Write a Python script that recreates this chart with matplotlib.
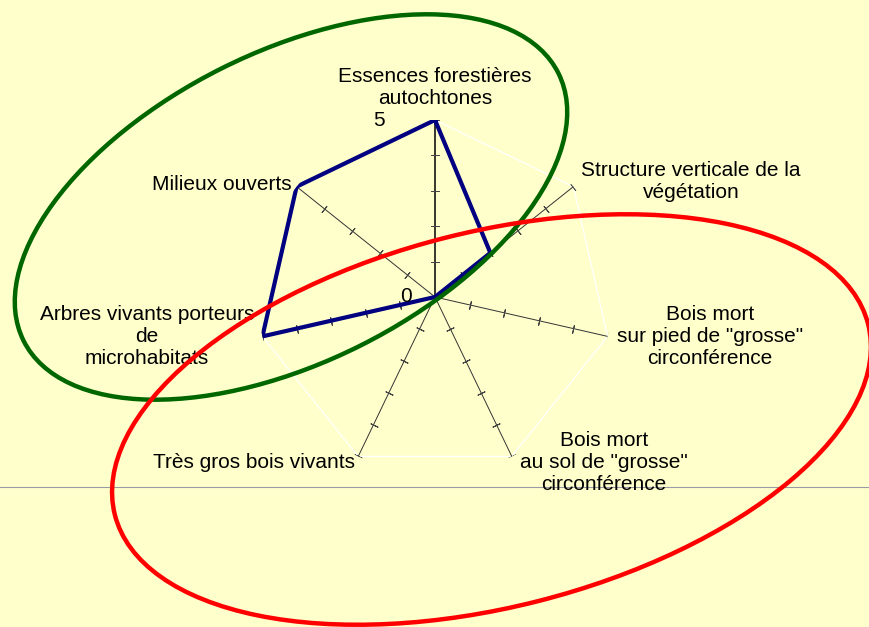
import numpy as np
import matplotlib
matplotlib.use('Agg')
import matplotlib.pyplot as plt
from matplotlib.patches import Ellipse

plt.rcParams['font.family'] = ['Liberation Sans', 'DejaVu Sans']

# data (clockwise from the top)
categories = ['Essences forestières\nautochtones',
              'Structure verticale de la\nvégétation',
              'Bois mort\nsur pied de "grosse"\ncirconférence',
              'Bois mort\nau sol de "grosse"\ncirconférence',
              'Très gros bois vivants',
              'Arbres vivants porteurs\nde\nmicrohabitats',
              'Milieux ouverts']
scores = [5, 2, 0, 0, 0, 5, 5]
r_max = 5
r_ticks = [1, 2, 3, 4, 5]

# label layout, in pixels of the 870x627 picture (x, y, ha)
label_pos = [(435, 88, 'center'), (691, 182, 'center'), (710, 337, 'center'),
             (604, 462, 'center'), (355, 462, 'right'), (147, 337, 'center'),
             (292, 184, 'right')]

W, H = 870, 627
bg = '#FFFFCC'
cx, cy, rad = 435, 297, 177
fs = 15

fig = plt.figure(figsize=(W / 100, H / 100), dpi=100)
fig.patch.set_facecolor(bg)

ax = fig.add_axes([(cx - rad) / W, 1 - (cy + rad) / H, 2 * rad / W, 2 * rad / H],
                  projection='polar')
ax.set_theta_offset(np.pi / 2)
ax.set_theta_direction(-1)
ax.set_ylim(0, r_max)
ax.set_axis_off()
ax.patch.set_alpha(0)

n = len(categories)
theta = np.arange(n) * 2 * np.pi / n

# outer web
web = np.append(theta, theta[0])
ax.plot(web, [r_max] * (n + 1), color='white', lw=0.9, zorder=1)

# spokes with tick marks
for i, t in enumerate(theta):
    col = 'black' if i == 0 else '#333333'
    ax.plot([t, t], [0, r_max], color=col, lw=1.1 if i == 0 else 0.7, zorder=2)
    phi = 90 - np.degrees(t)
    ax.plot([t] * len(r_ticks), r_ticks, ls='none', marker=(2, 2, phi),
            ms=6, mec='#444444', mew=0.7, zorder=2)

# series
vals = scores + scores[:1]
ax.plot(web, vals, color='#000080', lw=3.0, solid_joinstyle='miter', zorder=3)

# overlay in pixel coordinates
ov = fig.add_axes([0, 0, 1, 1])
ov.set_xlim(0, W)
ov.set_ylim(H, 0)
ov.set_axis_off()
ov.patch.set_alpha(0)

ov.axhline(487, color='#9a9aa4', lw=0.8, zorder=1)

for lab, (x, y, ha) in zip(categories, label_pos):
    ov.text(x, y, lab, ha=ha, va='center', fontsize=fs, color='black',
            linespacing=1.2, zorder=2)
ov.text(385, 120, str(r_max), ha='right', va='center', fontsize=fs, zorder=2)
ov.text(412, 297, '0', ha='right', va='center', fontsize=fs, zorder=2)

ov.add_patch(Ellipse((291, 207), 598, 310, angle=-26.6, fill=False,
                     ec='#006600', lw=3.2, zorder=4))
ov.add_patch(Ellipse((491.5, 419.5), 777, 375, angle=-14.2, fill=False,
                     ec='#FF0000', lw=3.2, zorder=4))

fig.savefig('out.png', dpi=100, facecolor=bg)
